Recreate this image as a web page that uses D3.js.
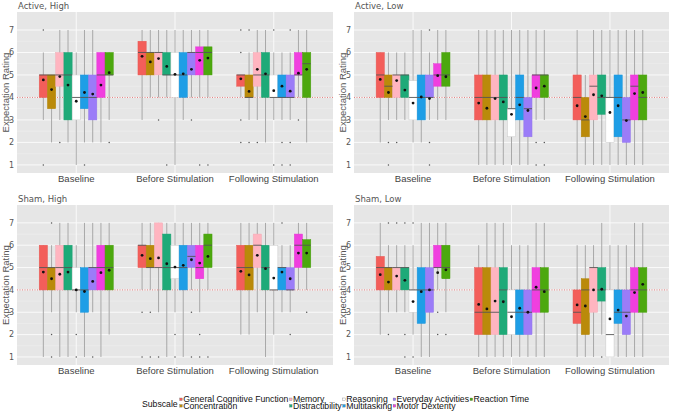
<!DOCTYPE html>
<html><head><meta charset="utf-8">
<script src="https://cdn.jsdelivr.net/npm/d3@7"></script>
<style>body{margin:0;background:#fff} svg{display:block}</style>
</head><body><svg id="chart" width="673" height="416"></svg>
<script>
const panelNames = ["Active, High", "Active, Low", "Sham, High", "Sham, Low"];
const groups = ["Baseline", "Before Stimulation", "Following Stimulation"];
const subscales = ["General Cognitive Function", "Concentration", "Memory", "Distractibility",
  "Reasoning", "Multitasking", "Everyday Activities", "Motor Dexterity", "Reaction Time"];
const palette = ["#F35E5A", "#BA8A0A", "#FFB5C0", "#1EAA78", "#FFFFFF", "#1E9EE6", "#9B7CF8", "#F03FDF", "#4CA80E"];
const yTicks = [1, 2, 3, 4, 5, 6, 7];
const refValue = 4;

// rows per group (9 subscales each): [lowerWhisker, q1, median, q3, upperWhisker, mean, outliers]
const activeHigh = [
  [3,4,5,5,6,4.78,[7,1]], [2,3.5,5,5,5,4.35,[]], [3,4.5,5,6,7,4.93,[2]], [2,3,5,6,7,4.55,[]], [1,3,4,5,6,3.83,[]],
  [2,3.5,4,5,7,4.22,[1]], [2,3,4,5,7,4.15,[]], [2,4,5,6,6,4.55,[]], [3,5,5,6,6,5.1,[2]],
  [3,5,6,6.5,7,5.83,[]], [4,5,6,6,7,5.58,[]], [4,5,6,6,7,5.73,[3]], [4,5,5,6,7,5.38,[1]], [1,4,5,6,7,5.03,[]],
  [3,4,5,6,7,5.05,[]], [4,5,6,6,7,5.25,[3]], [4,5,6,6.25,7,5.65,[1]], [4,5,6,6.25,7,5.75,[1]],
  [4,4.5,5,5,5,4.83,[7,6,3,2]], [3,4,4,5,6,4.27,[7,2]], [3,4.5,5,6,7,5.25,[2]], [2,4,5,6,7,5.05,[]], [3,4,4,5,6,4.3,[7,1]],
  [3,4,4,5,6,4.5,[2,1]], [3,4,4,5,6,4.28,[7,2,1]], [4,5,5,6,7,5.08,[3]], [2,4,5.5,6,7,5.25,[]]
];
const activeLow = [
  [2,4,5,6,6,4.8,[]], [3,4,4.5,5,6,4.22,[2,1]], [3,4,5,5,6,4.75,[2]], [3,4,5,5,6,4.33,[]], [2,3,4,4.75,7,3.75,[]],
  [2,3,4,5,7,4.02,[]], [3,4,4,5,6,3.95,[7,2,1]], [3,4.5,5,5.5,7,4.97,[]], [3,4.5,5,6,7,4.92,[]],
  [1,3,4,5,7,3.75,[]], [1,3,4,5,7,3.52,[]], [1,3,4,5,7,3.95,[]], [1,3,4,5,7,3.8,[]], [1,2.25,3.5,3.5,7,3.25,[]],
  [1,3,4,5,7,3.67,[]], [1,2.25,3.5,4,7,3.42,[]], [3,4,5,5,7,4.42,[2,1]], [3,4,5,5,7,4.5,[2,1]],
  [1,3,4,5,7,3.63,[]], [1,2.25,3,4,5,3.15,[]], [1,3,4.5,5,7,4.12,[]], [1,3.25,4,5,7,4.07,[]], [1,2,4,4,7,3.33,[]],
  [1,2.25,4,5,7,3.63,[]], [1,2,3,4,7,2.97,[]], [1,3,4.5,5,7,4.17,[]], [1,3,4,5,7,4.22,[]]
];
const shamHigh = [
  [1,4,5,6,6,4.8,[]], [3,4,5,5,6,4.5,[7,2,1]], [1,4,5,6,7,4.7,[]], [1,4,5,6,7,4.8,[]], [3,4,4,5,6,4.0,[2,1]],
  [1,3,4,5,7,3.93,[]], [3,4,5,5,7,4.38,[1]], [1,4,5,6,7,4.77,[]], [2,4,5,6,7,4.88,[]],
  [4,5,6,6,7,5.55,[3,1]], [4,5,5,6,7,5.4,[3,1]], [3,5,5,7,7,5.43,[1]], [1,4,5,6.5,7,5.17,[]], [3,4.5,5,6,7,5.02,[2,1]],
  [1,4,5,6,7,5.1,[]], [4,5,5.5,6,7,5.35,[3,1]], [3,4.5,5,6,7,5.2,[2,1]], [4,5,6,6.5,7,5.5,[1]],
  [2,4,5,6,7,4.83,[]], [2,4,5,6,7,4.67,[]], [3,5,6,6.5,7,5.55,[]], [1,4,5,6,7,4.95,[]], [2,4,4,6,7,4.53,[]],
  [3,4,5,5,6,4.8,[7]], [3,4,4,5,6,4.5,[2]], [4,5,6,6.5,7,5.65,[]], [4,5,6,6.25,7,5.65,[3]]
];
const shamLow = [
  [2,4,5,5.5,7,4.68,[]], [3,4,5,5,6,4.35,[7,2]], [3,4,5,5,6,4.62,[7]], [3,4,5,5,6,4.43,[7,2,1]], [2,3,4,4,6,3.48,[7,1]],
  [1,2.5,4,5,7,3.92,[]], [1,3,4,5,7,4.0,[]], [4,5,5,6,7,4.77,[3,2]], [3,4.5,5,6,7,4.9,[2]],
  [1,2,3,5,6,3.35,[]], [1,2,3,5,7,3.15,[]], [1,2,3,5,7,3.5,[]], [1,2,4,5,7,3.47,[]], [1,2,3,4,6,2.8,[]],
  [1,2,3,4,6,3.18,[]], [1,2,3,4,6,3.0,[]], [1,3,4,5,7,4.12,[]], [1,3,4,5,7,3.92,[]],
  [1,2.5,3,4,6,3.33,[]], [1,2,4,4.5,6,3.28,[]], [1,3,5,5,6,4.0,[]], [2,3.5,4,5,7,4.03,[1]], [1,1,2,4,6,2.7,[]],
  [1,2.5,3,4,6,3.1,[]], [1,2,3,4,6,2.83,[]], [1,3,4,5,7,3.88,[]], [1,3,4,5,7,4.25,[]]
];
const panelData = [activeHigh, activeLow, shamHigh, shamLow];

const svg = d3.select("#chart");
const panelBoxes = [
  {x0: 17, x1: 333, y0: 12, y1: 173},
  {x0: 354, x1: 669, y0: 12, y1: 173},
  {x0: 17, x1: 333, y0: 205, y1: 365},
  {x0: 354, x1: 669, y0: 205, y1: 365}
];
const yDomain = [0.64, 7.8];

panelNames.forEach((name, pi) => {
  const pb = panelBoxes[pi];
  const rows = panelData[pi];
  const g = svg.append("g");
  const x = d3.scalePoint().domain(groups).range([pb.x0, pb.x1]).padding(0.6);
  const step = x.step();
  const xs = d3.scaleBand().domain(subscales).range([-0.375 * step, 0.375 * step]);
  const y = d3.scaleLinear().domain(yDomain).range([pb.y1, pb.y0]);

  g.append("rect").attr("x", pb.x0).attr("y", pb.y0).attr("width", pb.x1 - pb.x0).attr("height", pb.y1 - pb.y0)
    .attr("fill", "#E6E6E6");
  d3.range(1.5, 7.5, 1).forEach(v => {
    g.append("line").attr("x1", pb.x0).attr("x2", pb.x1).attr("y1", y(v)).attr("y2", y(v))
      .attr("stroke", "#F0F0F0").attr("stroke-width", 0.5);
  });
  yTicks.forEach(v => {
    g.append("line").attr("x1", pb.x0).attr("x2", pb.x1).attr("y1", y(v)).attr("y2", y(v))
      .attr("stroke", "#FAFAFA").attr("stroke-width", 1);
  });
  groups.forEach(gr => {
    g.append("line").attr("x1", x(gr)).attr("x2", x(gr)).attr("y1", pb.y0).attr("y2", pb.y1)
      .attr("stroke", "#FAFAFA").attr("stroke-width", 1);
  });
  g.append("line").attr("x1", pb.x0).attr("x2", pb.x1).attr("y1", y(refValue)).attr("y2", y(refValue))
    .attr("stroke", "#E07070").attr("stroke-width", 0.9).attr("stroke-dasharray", "1,1.5");

  const items = rows.map((r, i) => ({
    group: groups[Math.floor(i / 9)], sub: subscales[i % 9], color: palette[i % 9],
    lo: r[0], q1: r[1], med: r[2], q3: r[3], hi: r[4], mean: r[5], out: r[6]
  }));
  const cx = d => x(d.group) + xs(d.sub) + xs.bandwidth() / 2;
  g.selectAll(".wh").data(items).enter().append("line")
    .attr("x1", cx).attr("x2", cx).attr("y1", d => y(d.lo)).attr("y2", d => y(d.hi))
    .attr("stroke", "#A8A8A8").attr("stroke-width", 1);
  g.selectAll(".bx").data(items).enter().append("rect")
    .attr("x", d => x(d.group) + xs(d.sub)).attr("width", xs.bandwidth())
    .attr("y", d => y(d.q3)).attr("height", d => y(d.q1) - y(d.q3))
    .attr("fill", d => d.color)
    .attr("stroke", d => d.color === "#FFFFFF" ? "#C8C8C8" : d3.color(d.color).darker(0.15))
    .attr("stroke-width", 0.5);
  g.selectAll(".md").data(items).enter().append("line")
    .attr("x1", d => x(d.group) + xs(d.sub)).attr("x2", d => x(d.group) + xs(d.sub) + xs.bandwidth())
    .attr("y1", d => y(d.med)).attr("y2", d => y(d.med))
    .attr("stroke", "#555").attr("stroke-width", 0.9);
  items.forEach(d => {
    d.out.forEach(o => {
      g.append("circle").attr("cx", cx(d)).attr("cy", y(o)).attr("r", 0.75).attr("fill", "#555");
    });
  });
  g.selectAll(".mn").data(items).enter().append("circle")
    .attr("cx", cx).attr("cy", d => y(d.mean)).attr("r", 1.4).attr("fill", "#111");

  yTicks.forEach(v => {
    g.append("text").attr("x", pb.x0 - 3).attr("y", y(v)).attr("dy", "0.35em").attr("text-anchor", "end")
      .attr("font-family", "DejaVu Sans").attr("font-size", 8).attr("fill", "#555").text(v);
  });
  g.append("text").attr("transform", `translate(${pb.x0 - 8},${(pb.y0 + pb.y1) / 2}) rotate(-90)`)
    .attr("text-anchor", "middle").attr("font-family", "Liberation Sans").attr("font-size", 9.5)
    .attr("fill", "#555").text("Expectation Rating");
  groups.forEach(gr => {
    g.append("text").attr("x", x(gr)).attr("y", pb.y1 + 9).attr("text-anchor", "middle")
      .attr("font-family", "Liberation Sans").attr("font-size", 9.5).attr("fill", "#444").text(gr);
  });
  g.append("text").attr("x", pb.x0 + 1).attr("y", pb.y0 - 3).attr("font-family", "DejaVu Sans")
    .attr("font-size", 8.5).attr("fill", "#555").text(name);
});

// legend
const lg = svg.append("g");
const fs = 8.7;
const title = lg.append("text").attr("x", 0).attr("y", 407).attr("font-family", "Liberation Sans")
  .attr("font-size", fs).attr("fill", "#111").text("Subscale");
let cur = title.node().getComputedTextLength() + 2;
for (let c = 0; c < Math.ceil(subscales.length / 2); c++) {
  let maxW = 0;
  for (let r = 0; r < 2; r++) {
    const i = c * 2 + r;
    if (i >= subscales.length) break;
    const yy = 402 + r * 6.5;
    lg.append("rect").attr("x", cur).attr("y", yy - 4).attr("width", 2.6).attr("height", 2.6)
      .attr("fill", palette[i]).attr("stroke", "#666").attr("stroke-width", 0.3);
    const t = lg.append("text").attr("x", cur + 3.5).attr("y", yy).attr("font-family", "Liberation Sans")
      .attr("font-size", fs).attr("fill", "#111").text(subscales[i]);
    maxW = Math.max(maxW, t.node().getComputedTextLength());
  }
  cur += 3.5 + maxW + 1;
}
lg.attr("transform", `translate(${336 - cur / 2},0)`);
</script></body></html>
